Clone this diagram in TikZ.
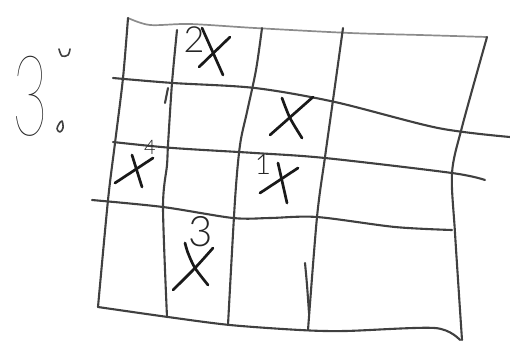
\documentclass[tikz,border=0pt]{standalone}
\usepackage{fontspec}
\newfontfamily\handlight{Lato Light}
\newfontfamily\handthin{Lato Thin}
\begin{document}
\begin{tikzpicture}[x=1pt,y=-1pt,
  gridline/.style={line width=2.1pt, draw=black!75, line cap=round, line join=round},
  faintline/.style={line width=1.7pt, draw=black!45, line cap=round},
  cross/.style={line width=2.7pt, draw=black!90, line cap=round},
  num/.style={inner sep=0pt, text=black!85, font=\handlight}]
\useasboundingbox (0,0) rectangle (510,349);
% outer frame
\draw[faintline] plot[smooth, tension=0.5] coordinates {(128,18) (150,25) (190,24) (255,28) (350,33) (420,35) (487,37)};
\draw[gridline] plot[smooth, tension=0.5] coordinates {(128,18) (123,78) (115,143) (108,200) (98,307)};
\draw[gridline] plot[smooth, tension=0.5] coordinates {(98,307) (168,317) (230,325) (300,330) (345,331) (435,328) (460,340)};
\draw[gridline] plot[smooth, tension=0.5] coordinates {(487,37) (462,127) (452,173) (455,233) (462,340)};
% horizontal lines
\draw[gridline] plot[smooth, tension=0.5] coordinates {(113,78) (173,83) (255,88) (335,102) (438,128) (510,137)};
\draw[gridline] plot[smooth, tension=0.5] coordinates {(113,142) (173,148) (255,153) (325,158) (452,173) (485,180)};
\draw[gridline] plot[smooth, tension=0.5] coordinates {(92,200) (163,207) (233,218) (270,218) (317,217) (395,227) (452,230)};
% vertical lines
\draw[gridline] plot[smooth, tension=0.5] coordinates {(177,30) (172,83) (168,145) (167,165) (163,207) (167,317)};
\draw[gridline] plot[smooth, tension=0.5] coordinates {(262,28) (256,70) (247,112) (240,145) (235,200) (228,325)};
\draw[gridline] plot[smooth, tension=0.5] coordinates {(343,28) (333,100) (325,157) (317,217) (308,330)};
\draw[gridline] plot[smooth, tension=0.5] coordinates {(305,263) (307,285) (309,313)};
% small tick under V1/H1
\draw[gridline] (168,88) -- (165,103);
% left symbol
\node[num, font=\handthin, xscale=0.55, anchor=center] (bigthree) at (30,96) {\fontsize{112}{112}\selectfont 3};
\draw[gridline, line width=1.6pt] plot[smooth, tension=0.6] coordinates {(59,49) (62,56) (68,55) (70,49)};
\draw[gridline, line width=1.6pt] plot[smooth cycle, tension=0.6] coordinates {(59,124) (62,121) (63,128) (60,132) (57,129)};
% marks in cells
\node[num] (n2) at (194,40) {\fontsize{36}{36}\selectfont 2};
\draw[cross] (199,67) -- (230,37);
\draw[cross] (202,28) -- (223,75);
\draw[cross] (270,135) -- (313,97);
\draw[cross] plot[smooth] coordinates {(282,98) (290,118) (302,138)};
\node[num] (n4) at (150,147) {\fontsize{20}{20}\selectfont 4};
\draw[cross] (115,183) -- (153,158);
\draw[cross] (132,155) -- (142,187);
\node[num] (n1) at (263,165) {\fontsize{28}{28}\selectfont 1};
\draw[cross] (260,193) -- (298,168);
\draw[cross] (278,163) -- (287,203);
\node[num] (n3) at (201,232) {\fontsize{42}{42}\selectfont 3};
\draw[cross] plot[smooth] coordinates {(173,290) (195,268) (213,248)};
\draw[cross] plot[smooth] coordinates {(185,243) (188,253) (195,268) (208,285)};
\end{tikzpicture}
\end{document}
